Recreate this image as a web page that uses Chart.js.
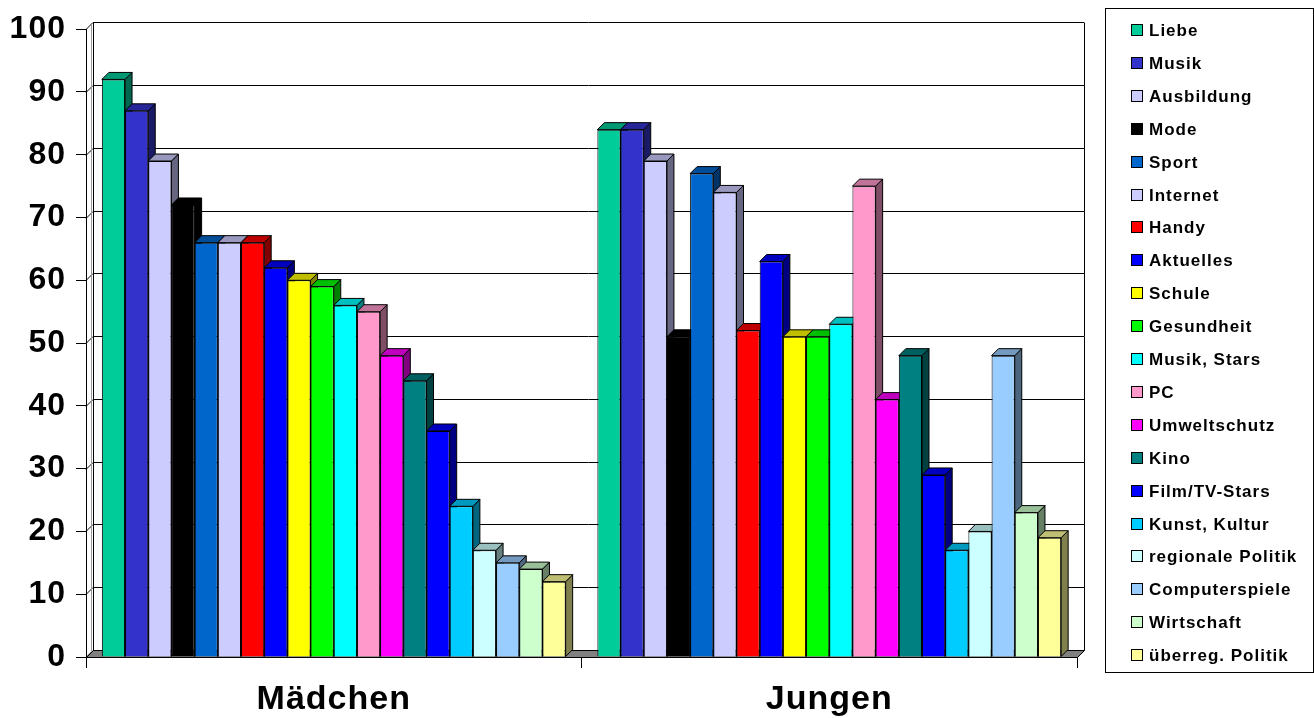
<!DOCTYPE html>
<html>
<head>
<meta charset="utf-8">
<script src="https://cdn.jsdelivr.net/npm/chart.js@4.4.0/dist/chart.umd.min.js"></script>
<style>
  html, body { margin: 0; padding: 0; background: #fff; overflow: hidden; }
  #wrap { width: 1314px; height: 718px; }
</style>
</head>
<body>
<div id="wrap"><canvas id="c" width="1314" height="718"></canvas></div>
<script>
// Gruppen auf der x-Achse
const categories = ['Mädchen', 'Jungen'];

// Themen (eine Säule je Thema und Gruppe)
const topics = [
  'Liebe', 'Musik', 'Ausbildung', 'Mode', 'Sport', 'Internet', 'Handy',
  'Aktuelles', 'Schule', 'Gesundheit', 'Musik, Stars', 'PC', 'Umweltschutz',
  'Kino', 'Film/TV-Stars', 'Kunst, Kultur', 'regionale Politik',
  'Computerspiele', 'Wirtschaft', 'überreg. Politik'
];

// Werte in Prozent
const valuesMaedchen = [92, 87, 79, 72, 66, 66, 66, 62, 60, 59, 56, 55, 48, 44, 36, 24, 17, 15, 14, 12];
const valuesJungen   = [84, 84, 79, 51, 77, 74, 52, 63, 51, 51, 53, 75, 41, 48, 29, 17, 20, 48, 23, 19];

// Füllfarben der Themen
const topicColors = [
  '#00CC99', '#3333CC', '#CCCCFF', '#000000', '#0066CC', '#CCCCFF', '#FF0000',
  '#0000FF', '#FFFF00', '#00FF00', '#00FFFF', '#FF99CC', '#FF00FF',
  '#008080', '#0000FF', '#00CCFF', '#CCFFFF', '#99CCFF', '#CCFFCC', '#FFFF99'
];

// Skala der y-Achse
const yMin = 0, yMax = 100, yStep = 10;

const FONT = '"Liberation Sans", Arial, Helvetica, sans-serif';
const DX = 7, DY = 7;   // Tiefenversatz der 3D-Darstellung

function shade(hex, f) {
  const n = parseInt(hex.slice(1), 16);
  const r = Math.round(((n >> 16) & 255) * f);
  const g = Math.round(((n >> 8) & 255) * f);
  const b = Math.round((n & 255) * f);
  return `rgb(${r},${g},${b})`;
}

// Rückwand, Gitterlinien, Boden sowie Deck- und Seitenflächen der Säulen
const depthPlugin = {
  id: 'depth',
  beforeDraw(chart) {
    chart.ctx.letterSpacing = '1px';
  },
  beforeDatasetsDraw(chart) {
    const { ctx, chartArea: a, scales: { y } } = chart;
    ctx.save();
    ctx.letterSpacing = '0px';
    ctx.lineWidth = 1;
    ctx.strokeStyle = '#000';

    // Gitterlinien auf Seiten- und Rückwand
    y.ticks.forEach(t => {
      const py = Math.round(y.getPixelForValue(t.value)) + 0.5;
      ctx.beginPath();
      ctx.moveTo(a.left, py);
      ctx.lineTo(a.left + DX, py - DY);
      ctx.lineTo(a.right + DX, py - DY);
      ctx.stroke();
    });
    const top = Math.round(a.top) + 0.5, bot = Math.round(a.bottom) + 0.5;
    const l = Math.round(a.left) + 0.5, r = Math.round(a.right) + 0.5;
    ctx.beginPath();
    ctx.moveTo(l + DX, top - DY); ctx.lineTo(l + DX, bot - DY);
    ctx.moveTo(r + DX, top - DY); ctx.lineTo(r + DX, bot - DY);
    ctx.stroke();
    ctx.strokeStyle = '#9a9a9a';
    ctx.beginPath();
    ctx.moveTo(l + DX - 2, top - DY + 2); ctx.lineTo(l + DX - 2, bot - DY + 2);
    ctx.stroke();
    ctx.strokeStyle = '#000';

    // Boden
    ctx.beginPath();
    ctx.moveTo(l, bot); ctx.lineTo(r, bot);
    ctx.lineTo(r + DX, bot - DY); ctx.lineTo(l + DX, bot - DY);
    ctx.closePath();
    ctx.fillStyle = '#808080';
    ctx.fill();
    ctx.stroke();

    // Seiten- und Deckflächen, von links nach rechts
    const n = chart.data.datasets.length;
    for (let j = 0; j < categories.length; j++) {
      for (let i = 0; i < n; i++) {
        const ds = chart.data.datasets[i];
        const el = chart.getDatasetMeta(i).data[j];
        const { x, y: ty, base, width } = el.getProps(['x', 'y', 'base', 'width'], true);
        const L = x - width / 2, R = x + width / 2;
        // Seite
        ctx.beginPath();
        ctx.moveTo(R, ty); ctx.lineTo(R + DX, ty - DY);
        ctx.lineTo(R + DX, base - DY); ctx.lineTo(R, base);
        ctx.closePath();
        ctx.fillStyle = shade(ds.backgroundColor, 0.5);
        ctx.fill(); ctx.stroke();
        // Deckfläche
        ctx.beginPath();
        ctx.moveTo(L, ty); ctx.lineTo(R, ty);
        ctx.lineTo(R + DX, ty - DY); ctx.lineTo(L + DX, ty - DY);
        ctx.closePath();
        ctx.fillStyle = shade(ds.backgroundColor, 0.75);
        ctx.fill(); ctx.stroke();
      }
    }
    ctx.restore();
  }
};

// Legende mit Rahmen rechts neben dem Diagramm
const legendPlugin = {
  id: 'legendBox',
  afterDraw(chart) {
    const ctx = chart.ctx;
    const bx = 1105.5, by = 8.5, bw = 208, bh = 664;
    ctx.save();
    ctx.lineWidth = 1;
    ctx.strokeStyle = '#000';
    ctx.strokeRect(bx, by, bw, bh);
    ctx.font = `bold 17px ${FONT}`;
    ctx.letterSpacing = '1px';
    ctx.textBaseline = 'middle';
    ctx.textAlign = 'left';
    const first = 30, pitch = 32.9;
    chart.data.datasets.forEach((ds, i) => {
      const cy = Math.round(first + i * pitch);
      ctx.fillStyle = ds.backgroundColor;
      ctx.fillRect(1131.5, cy - 5.5, 11, 11);
      ctx.strokeRect(1131.5, cy - 5.5, 11, 11);
      ctx.fillStyle = '#000';
      ctx.fillText(ds.label, 1149, cy + 1);
    });
    ctx.restore();
  }
};

const datasets = topics.map((t, i) => ({
  label: t,
  data: [valuesMaedchen[i], valuesJungen[i]],
  backgroundColor: topicColors[i],
  borderColor: '#000',
  borderWidth: 1,
  barPercentage: 1.0,
  categoryPercentage: 0.936
}));

new Chart(document.getElementById('c'), {
  type: 'bar',
  data: { labels: categories, datasets },
  options: {
    responsive: false,
    devicePixelRatio: 1,
    animation: false,
    layout: { padding: { left: 0, top: 22, right: 237, bottom: 0 } },
    plugins: {
      legend: { display: false },
      tooltip: { enabled: false }
    },
    scales: {
      x: {
        grid: { offset: true, drawOnChartArea: false, drawTicks: true, tickLength: 11, color: '#000', lineWidth: 1 },
        border: { display: true, color: '#000', width: 1 },
        ticks: {
          color: '#000',
          padding: 11,
          font: { family: FONT, size: 34, weight: 'bold' }
        },
        afterFit(s) { s.height = 61; }
      },
      y: {
        min: yMin,
        max: yMax,
        grid: { drawOnChartArea: false, drawTicks: true, tickLength: 10, color: '#000', lineWidth: 1 },
        border: { display: true, color: '#000', width: 1 },
        ticks: {
          stepSize: yStep,
          color: '#000',
          padding: 10,
          font: { family: FONT, size: 32, weight: 'bold' }
        },
        afterFit(s) { s.width = 86; }
      }
    }
  },
  plugins: [depthPlugin, legendPlugin]
});
</script>
</body>
</html>
